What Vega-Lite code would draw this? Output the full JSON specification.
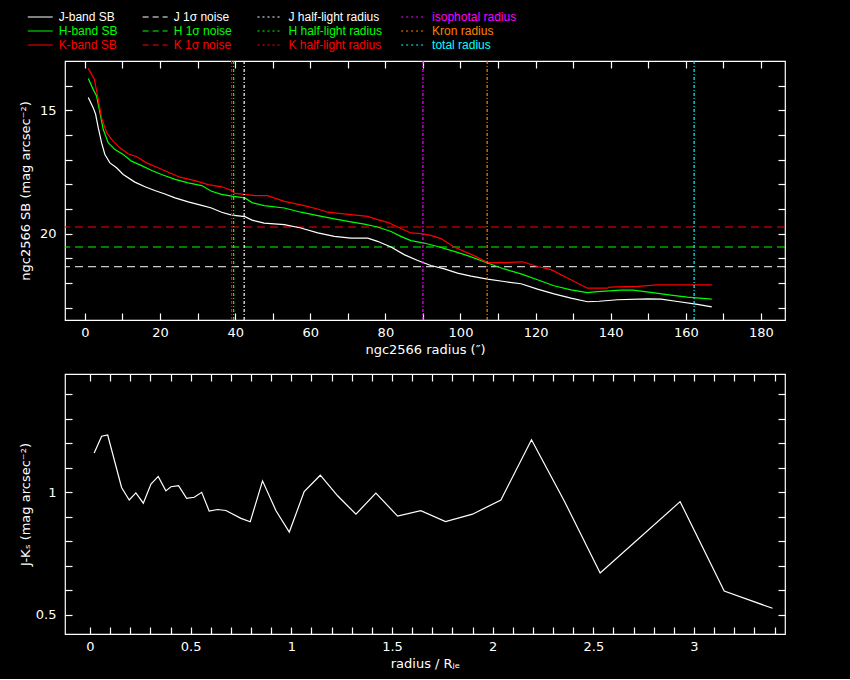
{
  "$schema": "https://vega.github.io/schema/vega-lite/v6.json",
  "background": "black",
  "padding": {"left": 18, "top": 6, "right": 66, "bottom": 8},
  "bounds": "flush",
  "spacing": 54,
  "datasets": {
    "legend": [
      {"kind": "SB", "series": "J", "row": 1, "label": "J-band SB"},
      {"kind": "SB", "series": "H", "row": 2, "label": "H-band SB"},
      {"kind": "SB", "series": "K", "row": 3, "label": "K-band SB"},
      {"kind": "noise", "series": "J", "row": 1, "label": "J 1σ noise"},
      {"kind": "noise", "series": "H", "row": 2, "label": "H 1σ noise"},
      {"kind": "noise", "series": "K", "row": 3, "label": "K 1σ noise"},
      {"kind": "half", "series": "J", "row": 1, "label": "J half-light radius"},
      {"kind": "half", "series": "H", "row": 2, "label": "H half-light radius"},
      {"kind": "half", "series": "K", "row": 3, "label": "K half-light radius"},
      {"kind": "radius", "series": "isophotal", "row": 1, "label": "isophotal radius"},
      {"kind": "radius", "series": "Kron", "row": 2, "label": "Kron radius"},
      {"kind": "radius", "series": "total", "row": 3, "label": "total radius"}
    ],
    "noise": [
      {"series": "J", "level": 21.34},
      {"series": "H", "level": 20.54},
      {"series": "K", "level": 19.73}
    ],
    "radii": [
      {"series": "J", "radius": 42.4},
      {"series": "H", "radius": 39.6},
      {"series": "K", "radius": 39.06},
      {"series": "isophotal", "radius": 90.0},
      {"series": "Kron", "radius": 107.1},
      {"series": "total", "radius": 162.2}
    ],
    "sb": [
      {"series": "J", "r": 0.9, "mag": 14.48},
      {"series": "J", "r": 2.2, "mag": 14.89},
      {"series": "J", "r": 2.85, "mag": 15.16},
      {"series": "J", "r": 3.55, "mag": 15.7},
      {"series": "J", "r": 4.43, "mag": 16.31},
      {"series": "J", "r": 5.32, "mag": 16.79},
      {"series": "J", "r": 6.66, "mag": 17.13},
      {"series": "J", "r": 8.43, "mag": 17.33},
      {"series": "J", "r": 10.2, "mag": 17.6},
      {"series": "J", "r": 13.3, "mag": 17.91},
      {"series": "J", "r": 16.0, "mag": 18.1},
      {"series": "J", "r": 18.6, "mag": 18.25},
      {"series": "J", "r": 21.3, "mag": 18.39},
      {"series": "J", "r": 24.0, "mag": 18.55},
      {"series": "J", "r": 27.5, "mag": 18.71},
      {"series": "J", "r": 31.1, "mag": 18.85},
      {"series": "J", "r": 33.7, "mag": 18.96},
      {"series": "J", "r": 36.4, "mag": 19.13},
      {"series": "J", "r": 39.1, "mag": 19.25},
      {"series": "J", "r": 42.6, "mag": 19.31},
      {"series": "J", "r": 44.5, "mag": 19.45},
      {"series": "J", "r": 47.7, "mag": 19.57},
      {"series": "J", "r": 53.1, "mag": 19.63},
      {"series": "J", "r": 57.5, "mag": 19.77},
      {"series": "J", "r": 62.0, "mag": 19.97},
      {"series": "J", "r": 66.4, "mag": 20.11},
      {"series": "J", "r": 70.8, "mag": 20.18},
      {"series": "J", "r": 75.3, "mag": 20.18},
      {"series": "J", "r": 77.9, "mag": 20.31},
      {"series": "J", "r": 81.5, "mag": 20.54},
      {"series": "J", "r": 85.0, "mag": 20.85},
      {"series": "J", "r": 88.6, "mag": 21.09},
      {"series": "J", "r": 92.1, "mag": 21.29},
      {"series": "J", "r": 95.7, "mag": 21.43},
      {"series": "J", "r": 99.2, "mag": 21.6},
      {"series": "J", "r": 102.8, "mag": 21.72},
      {"series": "J", "r": 107.2, "mag": 21.84},
      {"series": "J", "r": 111.6, "mag": 21.94},
      {"series": "J", "r": 116.1, "mag": 22.03},
      {"series": "J", "r": 120.5, "mag": 22.25},
      {"series": "J", "r": 124.9, "mag": 22.44},
      {"series": "J", "r": 129.4, "mag": 22.61},
      {"series": "J", "r": 133.8, "mag": 22.76},
      {"series": "J", "r": 136.9, "mag": 22.74},
      {"series": "J", "r": 141.8, "mag": 22.68},
      {"series": "J", "r": 149.8, "mag": 22.64},
      {"series": "J", "r": 153.4, "mag": 22.65},
      {"series": "J", "r": 157.8, "mag": 22.75},
      {"series": "J", "r": 163.1, "mag": 22.87},
      {"series": "J", "r": 166.9, "mag": 22.97},
      {"series": "H", "r": 0.9, "mag": 13.71},
      {"series": "H", "r": 2.2, "mag": 14.15},
      {"series": "H", "r": 3.1, "mag": 14.42},
      {"series": "H", "r": 4.0, "mag": 15.09},
      {"series": "H", "r": 4.87, "mag": 15.77},
      {"series": "H", "r": 6.2, "mag": 16.31},
      {"series": "H", "r": 8.0, "mag": 16.59},
      {"series": "H", "r": 10.2, "mag": 16.79},
      {"series": "H", "r": 12.4, "mag": 17.06},
      {"series": "H", "r": 15.1, "mag": 17.24},
      {"series": "H", "r": 17.8, "mag": 17.44},
      {"series": "H", "r": 20.4, "mag": 17.6},
      {"series": "H", "r": 24.0, "mag": 17.8},
      {"series": "H", "r": 27.5, "mag": 17.94},
      {"series": "H", "r": 31.1, "mag": 18.05},
      {"series": "H", "r": 33.7, "mag": 18.28},
      {"series": "H", "r": 36.4, "mag": 18.41},
      {"series": "H", "r": 39.1, "mag": 18.48},
      {"series": "H", "r": 42.6, "mag": 18.55},
      {"series": "H", "r": 44.5, "mag": 18.74},
      {"series": "H", "r": 47.7, "mag": 18.86},
      {"series": "H", "r": 53.1, "mag": 18.96},
      {"series": "H", "r": 57.5, "mag": 19.13},
      {"series": "H", "r": 62.0, "mag": 19.27},
      {"series": "H", "r": 66.4, "mag": 19.4},
      {"series": "H", "r": 70.8, "mag": 19.52},
      {"series": "H", "r": 74.4, "mag": 19.61},
      {"series": "H", "r": 77.9, "mag": 19.73},
      {"series": "H", "r": 81.5, "mag": 19.91},
      {"series": "H", "r": 84.1, "mag": 20.11},
      {"series": "H", "r": 86.8, "mag": 20.28},
      {"series": "H", "r": 90.3, "mag": 20.38},
      {"series": "H", "r": 93.9, "mag": 20.52},
      {"series": "H", "r": 98.3, "mag": 20.72},
      {"series": "H", "r": 101.9, "mag": 20.89},
      {"series": "H", "r": 105.4, "mag": 21.09},
      {"series": "H", "r": 107.2, "mag": 21.19},
      {"series": "H", "r": 111.6, "mag": 21.43},
      {"series": "H", "r": 116.1, "mag": 21.63},
      {"series": "H", "r": 120.5, "mag": 21.87},
      {"series": "H", "r": 124.9, "mag": 22.11},
      {"series": "H", "r": 129.4, "mag": 22.28},
      {"series": "H", "r": 133.8, "mag": 22.39},
      {"series": "H", "r": 136.5, "mag": 22.35},
      {"series": "H", "r": 142.7, "mag": 22.29},
      {"series": "H", "r": 146.0, "mag": 22.29},
      {"series": "H", "r": 151.6, "mag": 22.4},
      {"series": "H", "r": 156.0, "mag": 22.49},
      {"series": "H", "r": 160.4, "mag": 22.57},
      {"series": "H", "r": 166.9, "mag": 22.65},
      {"series": "K", "r": 0.9, "mag": 13.3},
      {"series": "K", "r": 2.5, "mag": 13.74},
      {"series": "K", "r": 3.55, "mag": 14.55},
      {"series": "K", "r": 4.43, "mag": 15.3},
      {"series": "K", "r": 5.8, "mag": 15.91},
      {"series": "K", "r": 7.1, "mag": 16.18},
      {"series": "K", "r": 9.3, "mag": 16.52},
      {"series": "K", "r": 11.5, "mag": 16.76},
      {"series": "K", "r": 13.8, "mag": 16.88},
      {"series": "K", "r": 16.4, "mag": 17.13},
      {"series": "K", "r": 19.5, "mag": 17.33},
      {"series": "K", "r": 22.2, "mag": 17.51},
      {"series": "K", "r": 25.3, "mag": 17.71},
      {"series": "K", "r": 29.3, "mag": 17.85},
      {"series": "K", "r": 32.8, "mag": 18.01},
      {"series": "K", "r": 36.4, "mag": 18.1},
      {"series": "K", "r": 39.1, "mag": 18.25},
      {"series": "K", "r": 39.9, "mag": 18.37},
      {"series": "K", "r": 45.3, "mag": 18.46},
      {"series": "K", "r": 48.6, "mag": 18.46},
      {"series": "K", "r": 53.1, "mag": 18.69},
      {"series": "K", "r": 58.4, "mag": 18.86},
      {"series": "K", "r": 62.0, "mag": 19.0},
      {"series": "K", "r": 64.6, "mag": 19.13},
      {"series": "K", "r": 70.8, "mag": 19.23},
      {"series": "K", "r": 75.3, "mag": 19.3},
      {"series": "K", "r": 77.9, "mag": 19.43},
      {"series": "K", "r": 80.6, "mag": 19.54},
      {"series": "K", "r": 83.3, "mag": 19.73},
      {"series": "K", "r": 86.8, "mag": 19.97},
      {"series": "K", "r": 89.5, "mag": 20.0},
      {"series": "K", "r": 92.1, "mag": 20.07},
      {"series": "K", "r": 94.8, "mag": 20.2},
      {"series": "K", "r": 98.3, "mag": 20.54},
      {"series": "K", "r": 101.9, "mag": 20.78},
      {"series": "K", "r": 104.0, "mag": 20.92},
      {"series": "K", "r": 107.2, "mag": 21.17},
      {"series": "K", "r": 112.1, "mag": 21.17},
      {"series": "K", "r": 116.5, "mag": 21.14},
      {"series": "K", "r": 120.5, "mag": 21.33},
      {"series": "K", "r": 124.1, "mag": 21.46},
      {"series": "K", "r": 129.4, "mag": 21.87},
      {"series": "K", "r": 133.8, "mag": 22.21},
      {"series": "K", "r": 139.2, "mag": 22.21},
      {"series": "K", "r": 139.6, "mag": 22.17},
      {"series": "K", "r": 147.1, "mag": 22.14},
      {"series": "K", "r": 152.5, "mag": 22.08},
      {"series": "K", "r": 166.9, "mag": 22.08}
    ],
    "color": [
      {"rad": 0.021, "jk": 1.161},
      {"rad": 0.058, "jk": 1.229},
      {"rad": 0.088, "jk": 1.234},
      {"rad": 0.157, "jk": 1.02},
      {"rad": 0.195, "jk": 0.969},
      {"rad": 0.228, "jk": 0.998},
      {"rad": 0.265, "jk": 0.956},
      {"rad": 0.303, "jk": 1.034},
      {"rad": 0.339, "jk": 1.065},
      {"rad": 0.377, "jk": 1.006},
      {"rad": 0.402, "jk": 1.023},
      {"rad": 0.44, "jk": 1.027},
      {"rad": 0.48, "jk": 0.976},
      {"rad": 0.518, "jk": 0.98},
      {"rad": 0.555, "jk": 1.0},
      {"rad": 0.592, "jk": 0.924},
      {"rad": 0.634, "jk": 0.93},
      {"rad": 0.675, "jk": 0.926},
      {"rad": 0.75, "jk": 0.894},
      {"rad": 0.796, "jk": 0.88},
      {"rad": 0.857, "jk": 1.047},
      {"rad": 0.924, "jk": 0.925},
      {"rad": 0.99, "jk": 0.838},
      {"rad": 1.064, "jk": 1.003},
      {"rad": 1.144, "jk": 1.07},
      {"rad": 1.23, "jk": 0.986},
      {"rad": 1.321, "jk": 0.911},
      {"rad": 1.42, "jk": 0.997},
      {"rad": 1.528, "jk": 0.903},
      {"rad": 1.643, "jk": 0.925},
      {"rad": 1.766, "jk": 0.881},
      {"rad": 1.9, "jk": 0.911},
      {"rad": 2.041, "jk": 0.969},
      {"rad": 2.193, "jk": 1.215},
      {"rad": 2.355, "jk": 0.966},
      {"rad": 2.534, "jk": 0.671},
      {"rad": 2.931, "jk": 0.962},
      {"rad": 3.15, "jk": 0.597},
      {"rad": 3.39, "jk": 0.527}
    ]
  },
  "vconcat": [
    {
      "width": 720,
      "height": 1,
      "view": {"stroke": null},
      "data": {"name": "legend"},
      "encoding": {
        "y": {
          "field": "row",
          "type": "ordinal",
          "scale": {"type": "band", "range": [4, 46], "paddingInner": 0, "paddingOuter": 0},
          "axis": null
        },
        "color": {
          "field": "series",
          "type": "nominal",
          "scale": {
            "domain": ["J", "H", "K", "isophotal", "Kron", "total"],
            "range": ["#ffffff", "#00ff00", "#ff0000", "#ff00ff", "#ff8000", "#00ffff"]
          },
          "legend": null
        }
      },
      "layer": [
        {
          "mark": {"type": "rule", "strokeWidth": 1.2},
          "encoding": {
            "x": {
              "field": "kind",
              "type": "nominal",
              "bandPosition": 0,
              "scale": {
                "type": "band",
                "domain": ["SB", "s1", "s2", "s3", "noise", "s4", "s5", "s6", "half", "s7", "s8", "s9", "s10", "radius"],
                "range": [-37.25, 364.8],
                "paddingInner": 0,
                "paddingOuter": 0
              },
              "axis": null
            },
            "x2": {"field": "kind", "bandPosition": 0.87},
            "strokeDash": {
              "field": "kind",
              "type": "nominal",
              "scale": {
                "domain": ["SB", "noise", "half", "radius"],
                "range": [[1, 0], [6, 4], [2, 3], [2, 3]]
              },
              "legend": null
            }
          }
        },
        {
          "mark": {
            "type": "text",
            "align": "left",
            "baseline": "middle",
            "font": "Liberation Sans Narrow, Liberation Sans",
            "fontSize": 12
          },
          "encoding": {
            "x": {
              "field": "kind",
              "type": "nominal",
              "bandPosition": 1.08,
              "scale": {
                "type": "band",
                "domain": ["SB", "s1", "s2", "s3", "noise", "s4", "s5", "s6", "half", "s7", "s8", "s9", "s10", "radius"],
                "range": [-37.25, 364.8],
                "paddingInner": 0,
                "paddingOuter": 0
              },
              "axis": null
            },
            "text": {"field": "label"}
          }
        }
      ]
    },
    {
      "width": 720,
      "height": 259,
      "layer": [
        {
          "data": {"name": "noise"},
          "mark": {"type": "rule", "strokeWidth": 1, "strokeDash": [8, 5]},
          "encoding": {
            "y": {
              "field": "level",
              "type": "quantitative",
              "scale": {"domain": [13, 23.5], "reverse": true, "nice": false, "zero": false},
              "axis": {"orient": "right", "labels": false, "title": null, "values": [14, 15, 16, 17, 18, 19, 20, 21, 22, 23]}
            },
            "color": {
              "field": "series",
              "type": "nominal",
              "scale": {
                "domain": ["J", "H", "K", "isophotal", "Kron", "total"],
                "range": ["#ffffff", "#00ff00", "#ff0000", "#ff00ff", "#ff8000", "#00ffff"]
              },
              "legend": null
            }
          }
        },
        {
          "data": {"name": "sb"},
          "mark": {"type": "line", "strokeWidth": 1.2},
          "encoding": {
            "x": {
              "field": "r",
              "type": "quantitative",
              "scale": {"domain": [-5.3, 186.4], "nice": false, "zero": false},
              "axis": {
                "title": "ngc2566 radius (″)",
                "values": [0, 10, 20, 30, 40, 50, 60, 70, 80, 90, 100, 110, 120, 130, 140, 150, 160, 170, 180],
                "labelExpr": "datum.value % 20 === 0 ? datum.label : ''"
              }
            },
            "y": {
              "field": "mag",
              "type": "quantitative",
              "scale": {"domain": [13, 23.5], "reverse": true, "nice": false, "zero": false},
              "axis": {
                "title": "ngc2566 SB (mag arcsec⁻²)",
                "values": [14, 15, 16, 17, 18, 19, 20, 21, 22, 23],
                "labelExpr": "datum.value % 5 === 0 ? datum.label : ''"
              }
            },
            "color": {
              "field": "series",
              "type": "nominal",
              "scale": {
                "domain": ["J", "H", "K", "isophotal", "Kron", "total"],
                "range": ["#ffffff", "#00ff00", "#ff0000", "#ff00ff", "#ff8000", "#00ffff"]
              },
              "legend": null
            }
          }
        },
        {
          "data": {"name": "radii"},
          "mark": {"type": "rule", "strokeWidth": 1.2, "strokeDash": [3, 2, 1, 2]},
          "encoding": {
            "x": {
              "field": "radius",
              "type": "quantitative",
              "scale": {"domain": [-5.3, 186.4], "nice": false, "zero": false},
              "axis": {"orient": "top", "labels": false, "title": null, "values": [0, 10, 20, 30, 40, 50, 60, 70, 80, 90, 100, 110, 120, 130, 140, 150, 160, 170, 180]}
            },
            "color": {
              "field": "series",
              "type": "nominal",
              "scale": {
                "domain": ["J", "H", "K", "isophotal", "Kron", "total"],
                "range": ["#ffffff", "#00ff00", "#ff0000", "#ff00ff", "#ff8000", "#00ffff"]
              },
              "legend": null
            }
          }
        }
      ],
      "resolve": {"axis": {"x": "independent", "y": "independent"}}
    },
    {
      "width": 720,
      "height": 260,
      "layer": [
        {
          "mark": {"type": "rule", "color": "#ffff00", "strokeWidth": 1.2, "strokeDash": [10, 6]},
          "encoding": {
            "y": {
              "datum": 1,
              "type": "quantitative",
              "scale": {"domain": [0.422, 1.483], "nice": false, "zero": false},
              "axis": {"orient": "right", "labels": false, "title": null, "values": [0.5, 0.6, 0.7, 0.8, 0.9, 1.0, 1.1, 1.2, 1.3, 1.4]}
            }
          }
        },
        {
          "data": {"name": "color"},
          "mark": {"type": "line", "color": "#ffffff", "strokeWidth": 1.2},
          "encoding": {
            "x": {
              "field": "rad",
              "type": "quantitative",
              "scale": {"domain": [-0.124, 3.452], "nice": false, "zero": false},
              "axis": {
                "title": "radius / Rⱼₑ",
                "format": "~g",
                "values": [0, 0.1, 0.2, 0.3, 0.4, 0.5, 0.6, 0.7, 0.8, 0.9, 1, 1.1, 1.2, 1.3, 1.4, 1.5, 1.6, 1.7, 1.8, 1.9, 2, 2.1, 2.2, 2.3, 2.4, 2.5, 2.6, 2.7, 2.8, 2.9, 3, 3.1, 3.2, 3.3, 3.4],
                "labelExpr": "(datum.value * 2) % 1 === 0 ? datum.label : ''"
              }
            },
            "y": {
              "field": "jk",
              "type": "quantitative",
              "scale": {"domain": [0.422, 1.483], "nice": false, "zero": false},
              "axis": {
                "title": "J-Kₛ (mag arcsec⁻²)",
                "format": "~g",
                "values": [0.5, 0.6, 0.7, 0.8, 0.9, 1.0, 1.1, 1.2, 1.3, 1.4],
                "labelExpr": "(datum.value * 2) % 1 === 0 ? datum.label : ''"
              }
            }
          }
        },
        {
          "mark": {"type": "rule", "color": "#ff00ff", "strokeWidth": 1.2, "strokeDash": [3, 2, 1, 2]},
          "encoding": {
            "x": {
              "datum": 2.114,
              "type": "quantitative",
              "scale": {"domain": [-0.124, 3.452], "nice": false, "zero": false},
              "axis": {"orient": "top", "labels": false, "title": null, "values": [0, 0.1, 0.2, 0.3, 0.4, 0.5, 0.6, 0.7, 0.8, 0.9, 1, 1.1, 1.2, 1.3, 1.4, 1.5, 1.6, 1.7, 1.8, 1.9, 2, 2.1, 2.2, 2.3, 2.4, 2.5, 2.6, 2.7, 2.8, 2.9, 3, 3.1, 3.2, 3.3, 3.4]}
            }
          }
        }
      ],
      "resolve": {"axis": {"x": "independent", "y": "independent"}}
    }
  ],
  "config": {
    "view": {"stroke": "#ffffff", "strokeWidth": 1.2},
    "axis": {
      "domain": false,
      "grid": false,
      "ticks": true,
      "tickColor": "#ffffff",
      "tickSize": -7,
      "tickWidth": 1.2,
      "labelColor": "#ffffff",
      "titleColor": "#ffffff",
      "labelFont": "DejaVu Sans",
      "titleFont": "DejaVu Sans",
      "labelFontSize": 13,
      "titleFontSize": 13,
      "titleFontWeight": "normal",
      "labelOverlap": false,
      "labelFlush": false
    },
    "axisX": {"labelPadding": 13, "titlePadding": 5, "minExtent": 18, "maxExtent": 18},
    "axisY": {"labelPadding": 16, "titlePadding": 8, "minExtent": 25, "maxExtent": 25}
  }
}
